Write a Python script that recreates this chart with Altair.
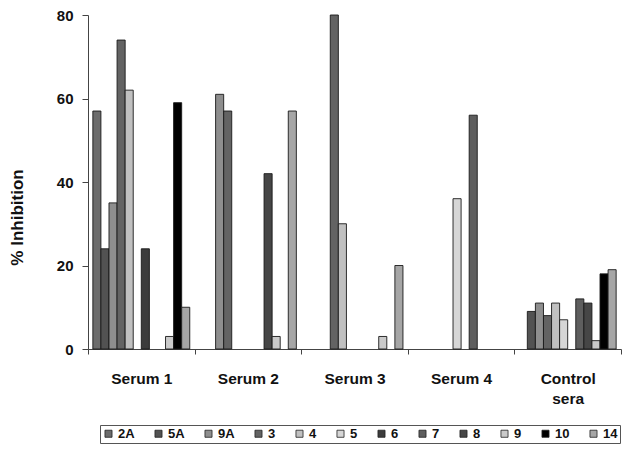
import altair as alt
import pandas as pd

groups = ["Serum 1", "Serum 2", "Serum 3", "Serum 4", "Control sera"]
serotypes = ["2A", "5A", "9A", "3", "4", "5", "6", "7", "8", "9", "10", "14"]
serum1 = [57, 24, 35, 74, 62, 0, 24, 0, 0, 3, 59, 10]
serum2 = [0, 0, 61, 57, 0, 0, 0, 0, 42, 3, 0, 57]
serum3 = [0, 0, 0, 80, 30, 0, 0, 0, 0, 3, 0, 20]
serum4 = [0, 0, 0, 0, 0, 36, 0, 56, 0, 0, 0, 0]
control = [0, 9, 11, 8, 11, 7, 0, 12, 11, 2, 18, 19]
colors = ["#6c6c6c", "#525252", "#8e8e8e", "#636363", "#c0c0c0", "#d6d6d6",
          "#3c3c3c", "#5e5e5e", "#464646", "#cacaca", "#000000", "#a6a6a6"]

rows = []
for g, vals in zip(groups, [serum1, serum2, serum3, serum4, control]):
    for s, v in zip(serotypes, vals):
        if v > 0:
            rows.append({"group": g, "serotype": s, "value": v})
df = pd.DataFrame(rows)

FONT = "Liberation Sans"

chart = alt.Chart(df).mark_bar(stroke="#1a1a1a", strokeWidth=0.9).encode(
    x=alt.X("group:N", sort=groups,
            scale=alt.Scale(paddingInner=0, paddingOuter=0),
            axis=alt.Axis(title=None, labelAngle=0, labelFont=FONT, labelFontSize=15.5,
                          labelFontWeight="bold", labelColor="#111",
                          labelExpr="datum.value == 'Control sera' ? ['Control', 'sera'] : datum.value",
                          labelLineHeight=20, labelPadding=17, tickSize=5,
                          tickBand="extent", domainColor="#444", tickColor="#444")),
    xOffset=alt.XOffset("serotype:N", sort=serotypes,
                        scale=alt.Scale(domain=serotypes, paddingInner=0, paddingOuter=0.6)),
    y=alt.Y("value:Q", scale=alt.Scale(domain=[0, 80]),
            axis=alt.Axis(title="% Inhibition", values=[0, 20, 40, 60, 80], grid=False,
                          titleFont=FONT, titleFontSize=17, titleFontWeight="bold",
                          titleColor="#111", titlePadding=30, titleY=202,
                          labelFont=FONT, labelFontSize=15, labelFontWeight="bold",
                          labelColor="#111", labelPadding=9, tickSize=6,
                          domainColor="#444", tickColor="#444")),
    color=alt.Color("serotype:N", sort=serotypes,
                    scale=alt.Scale(domain=serotypes, range=colors),
                    legend=alt.Legend(title=None, orient="none", legendX=12, legendY=410,
                                      direction="horizontal", columns=12,
                                      symbolType="square", symbolSize=50,
                                      symbolStrokeColor="#222", symbolStrokeWidth=0.8,
                                      labelFont=FONT, labelFontSize=13, labelFontWeight="bold",
                                      labelColor="#111", labelOffset=3,
                                      columnPadding=17, padding=2,
                                      strokeColor="#555")),
).properties(width=533, height=334, padding={"left": 0, "top": 0, "right": 0, "bottom": 0}
).configure_view(stroke=None)

chart.save("out.html", embed_options={"renderer": "svg", "actions": False})
